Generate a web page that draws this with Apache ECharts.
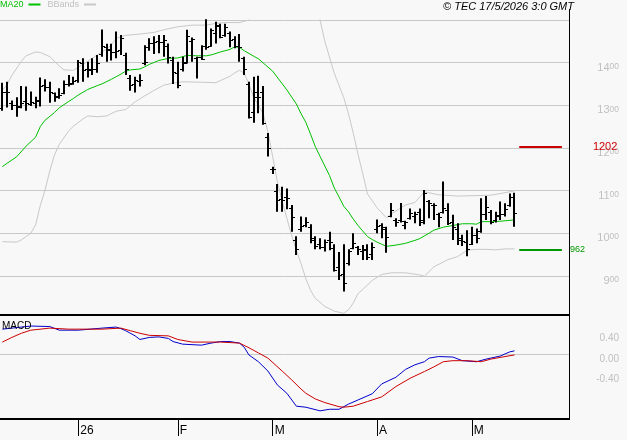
<!DOCTYPE html>
<html>
<head>
  <meta charset="utf-8">
  <title>MA20 / BBands / MACD</title>
  <script src="https://cdn.jsdelivr.net/npm/echarts@6/dist/echarts.min.js"></script>
  <style>
    html, body { margin: 0; padding: 0; background: #f8f8f8; }
  </style>
</head>
<body>
  <div id="main" style="width: 627px; height: 440px;"></div>
  <script>
    // trading days shown on the axis (the last ones are still empty)
    var decDays = [8, 9, 10, 11, 12, 15, 16, 17, 18, 19, 22, 23, 24, 29, 30, 31];
    var janDays = [2, 5, 6, 7, 8, 9, 12, 13, 14, 15, 16, 19, 20, 21, 22, 23, 26, 27, 28, 29, 30];
    var febDays = [2, 3, 4, 5, 6, 9, 10, 11, 12, 13, 16, 17, 18, 19, 20, 23, 24, 25, 26, 27];
    var marDays = [2, 3, 4, 5, 6, 9, 10, 11, 12, 13, 16, 17, 18, 19, 20, 23, 24, 25, 26, 27, 30, 31];
    var aprDays = [1, 2, 7, 8, 9, 10, 13, 14, 15, 16, 17, 20, 21, 22, 23, 24, 27, 28, 29, 30];
    var mayDays = [4, 5, 6, 7, 8, 11, 12, 13, 14, 15, 18, 19, 20, 21, 22, 25, 26, 27, 28, 29];
    var junDays = [1];
    var monthTicks = { '2026-01': '26', '2026-02': 'F', '2026-03': 'M', '2026-04': 'A', '2026-05': 'M' };

    var barOpen = [1293, 1330, 1305, 1300, 1296, 1310, 1304, 1306, 1310, 1348, 1344, 1328, 1320, 1328, 1350, 1352, 1360, 1400, 1386, 1384,
      1386, 1420, 1436, 1430, 1425, 1430, 1418, 1365, 1350, 1356, 1398, 1436, 1446, 1450, 1448, 1440, 1405, 1375, 1385, 1400,
      1450, 1410, 1414, 1438, 1440, 1470, 1485, 1465, 1470, 1455, 1440, 1410, 1350, 1285, 1330, 1330, 1225, 1150, 1100, 1080,
      1085, 1060, 985, 1010, 1020, 1015, 985, 975, 968, 985, 965, 920, 905, 930, 965, 968, 958, 960, 950, 1010,
      1020, 1010, 1040, 1030, 1030, 1020, 1035, 1040, 1050, 1030, 1075, 1065, 1045, 1050, 1055, 1025, 1010, 985, 980, 975,
      995, 1005, 1045, 1050, 1030, 1040, 1045, 1065, 1085];
    var barHigh = [1353, 1355, 1311, 1319, 1345, 1344, 1332, 1320, 1365, 1361, 1355, 1330, 1340, 1358, 1371, 1367, 1406, 1410, 1402, 1410,
      1418, 1478, 1444, 1444, 1473, 1465, 1423, 1371, 1367, 1373, 1441, 1457, 1462, 1465, 1465, 1445, 1414, 1402, 1414, 1477,
      1459, 1414, 1441, 1502, 1480, 1496, 1491, 1491, 1473, 1462, 1467, 1414, 1355, 1367, 1369, 1345, 1235, 1156, 1115, 1109,
      1105, 1066, 993, 1039, 1037, 1021, 993, 988, 985, 1003, 974, 956, 974, 962, 1000, 970, 972, 974, 978, 1032,
      1023, 1015, 1071, 1035, 1071, 1029, 1058, 1050, 1058, 1101, 1078, 1070, 1048, 1121, 1070, 1043, 1023, 996, 1007, 1015,
      1011, 1082, 1087, 1054, 1050, 1074, 1070, 1093, 1095];
    var barLow = [1287, 1295, 1289, 1273, 1293, 1287, 1298, 1293, 1297, 1332, 1306, 1308, 1315, 1326, 1344, 1348, 1353, 1355, 1365, 1371,
      1376, 1414, 1402, 1405, 1410, 1418, 1371, 1334, 1330, 1344, 1394, 1428, 1420, 1422, 1414, 1398, 1350, 1340, 1379, 1398,
      1402, 1363, 1406, 1430, 1437, 1445, 1457, 1461, 1436, 1434, 1402, 1371, 1269, 1259, 1281, 1254, 1180, 1139, 1050, 1050,
      1056, 1003, 949, 1003, 1014, 976, 962, 962, 957, 960, 910, 890, 863, 924, 962, 949, 937, 937, 937, 1000,
      988, 954, 1037, 1015, 1025, 1009, 1032, 1023, 1017, 1021, 1035, 1031, 1014, 1046, 1019, 984, 972, 970, 946, 972,
      976, 1001, 1031, 1021, 1025, 1031, 1039, 1062, 1015];
    var barClose = [1332, 1332, 1301, 1298, 1306, 1305, 1308, 1312, 1345, 1344, 1332, 1322, 1324, 1351, 1351, 1358, 1402, 1383, 1383, 1384,
      1398, 1439, 1431, 1426, 1428, 1457, 1384, 1348, 1359, 1359, 1402, 1445, 1449, 1449, 1452, 1414, 1379, 1348, 1402, 1462,
      1455, 1414, 1408, 1437, 1477, 1488, 1459, 1484, 1452, 1439, 1437, 1384, 1272, 1320, 1320, 1258, 1200, 1150, 1078, 1078,
      1082, 1039, 962, 1017, 1025, 988, 970, 968, 980, 980, 913, 902, 882, 957, 976, 962, 962, 945, 968, 1017,
      1015, 990, 1054, 1025, 1029, 1027, 1048, 1046, 1025, 1093, 1070, 1066, 1038, 1058, 1023, 1014, 988, 982, 962, 996,
      988, 1046, 1062, 1025, 1043, 1046, 1056, 1084, 1048];

    // indicator readings: [bar index, value]
    var ma20 = [[0, 1156], [1, 1164], [3, 1179], [5, 1204], [7, 1225], [8, 1250], [9, 1265], [11, 1283], [12, 1294], [14, 1309],
      [15, 1316], [16, 1324], [18, 1337], [20, 1346], [21, 1350], [23, 1361], [24, 1367], [25, 1373], [26, 1380], [27, 1383],
      [29, 1385], [30, 1390], [31, 1396], [33, 1405], [35, 1410], [37, 1411], [39, 1417], [41, 1416], [43, 1416], [44, 1418],
      [46, 1425], [48, 1431], [49, 1437], [50, 1436], [51, 1428], [53, 1415], [54, 1409], [57, 1380], [60, 1336], [62, 1303],
      [63, 1280], [64, 1260], [65, 1232], [66, 1203], [67, 1180], [69, 1135], [70, 1106], [71, 1085], [72, 1063], [73, 1050],
      [74, 1033], [75, 1018], [76, 1005], [77, 992], [78, 985], [79, 979], [80, 974], [81, 969], [83, 972], [85, 976],
      [87, 983], [88, 987], [90, 1000], [91, 1007], [93, 1014], [95, 1018], [97, 1022], [99, 1022], [100, 1021], [101, 1027],
      [104, 1027], [106, 1029], [108, 1031]];
    var bbUpper = [[0, 1335], [1, 1348], [2, 1370], [4, 1403], [5, 1416], [7, 1425], [8, 1424], [10, 1414], [12, 1392], [13, 1383],
      [15, 1382], [16, 1389], [18, 1403], [20, 1418], [22, 1432], [23, 1442], [24, 1457], [26, 1464], [29, 1467], [32, 1471],
      [34, 1477], [37, 1484], [40, 1488], [43, 1488], [45, 1492], [47, 1494], [50, 1494], [52, 1500], [53, 1520], [60, null],
      [66, 1530], [67, 1500], [68, 1450], [70, 1375], [72, 1318], [73, 1280], [74, 1235], [75, 1185], [76, 1140], [77, 1092], [79, 1060],
      [81, 1036], [82, 1045], [85, 1066], [87, 1072], [89, 1097], [92, 1090], [96, 1087], [103, 1089], [108, 1099]];
    var bbLower = [[0, 980], [3, 979], [4, 984], [6, 1000], [7, 1019], [8, 1065], [9, 1101], [10, 1146], [11, 1184], [12, 1208],
      [14, 1240], [15, 1251], [17, 1268], [18, 1275], [20, 1273], [22, 1275], [24, 1286], [26, 1290], [28, 1308], [30, 1322],
      [32, 1335], [34, 1347], [36, 1352], [38, 1355], [42, 1354], [45, 1353], [46, 1358], [48, 1368], [49, 1376], [50, 1382],
      [51, 1375], [52, 1350], [53, 1318], [54, 1300], [55, 1280], [56, 1238], [57, 1180], [58, 1120], [59, 1076], [60, 1035],
      [61, 995], [62, 960], [63, 928], [64, 893], [65, 866], [66, 847], [68, 828], [70, 817], [72, 812], [73, 820],
      [74, 836], [75, 858], [76, 868], [78, 889], [80, 903], [82, 907], [85, 907], [88, 902], [89, 899], [91, 921],
      [94, 938], [96, 945], [98, 960], [100, 962], [102, 962], [104, 961], [106, 963], [108, 963]];
    var macdLine = [[0, 0.48], [6, 0.54], [10, 0.53], [12, 0.46], [16, 0.46], [21, 0.50], [24, 0.52], [25, 0.49], [26, 0.45], [28, 0.35],
      [29, 0.28], [31, 0.32], [33, 0.33], [35, 0.30], [36, 0.24], [38, 0.19], [42, 0.17], [44, 0.21], [46, 0.24], [48, 0.24],
      [50, 0.21], [51, 0.13], [52, -0.02], [54, -0.15], [56, -0.33], [58, -0.60], [60, -0.76], [62, -1.01], [64, -1.03], [67, -1.10],
      [69, -1.07], [71, -1.07], [73, -0.97], [75, -0.89], [78, -0.77], [80, -0.58], [83, -0.45], [85, -0.30], [87, -0.21], [89, -0.15],
      [90, -0.08], [92, -0.05], [95, -0.06], [97, -0.13], [100, -0.15], [102, -0.10], [105, -0.04], [107, 0.04], [108, 0.06]];
    var signalLine = [[0, 0.23], [2, 0.32], [4, 0.40], [6, 0.46], [10, 0.50], [14, 0.48], [21, 0.48], [25, 0.50], [27, 0.45], [29, 0.40],
      [31, 0.36], [35, 0.35], [37, 0.28], [40, 0.23], [44, 0.23], [46, 0.23], [50, 0.21], [52, 0.12], [54, 0.02], [56, -0.08],
      [59, -0.33], [61, -0.50], [63, -0.68], [64, -0.76], [66, -0.87], [68, -0.94], [71, -1.02], [72, -1.03], [74, -1.01], [77, -0.92],
      [80, -0.83], [83, -0.63], [86, -0.47], [89, -0.34], [91, -0.25], [93, -0.15], [95, -0.13], [98, -0.13], [101, -0.15], [103, -0.10],
      [106, -0.05], [108, -0.02]];

    var levelHigh = 1202;
    var levelLow = 962;

    var cats = [];
    function addMonth(prefix, days) {
      for (var k = 0; k < days.length; k++) {
        cats.push(prefix + (days[k] < 10 ? '0' : '') + days[k]);
      }
    }
    addMonth('2025-12-', decDays);
    addMonth('2026-01-', janDays);
    addMonth('2026-02-', febDays);
    addMonth('2026-03-', marDays);
    addMonth('2026-04-', aprDays);
    addMonth('2026-05-', mayDays);
    addMonth('2026-06-', junDays);

    function isMonthStart(index) {
      return index > 0 && cats[index].slice(0, 7) !== cats[index - 1].slice(0, 7) && monthTicks[cats[index].slice(0, 7)] !== undefined;
    }
    var monthStarts = [];
    for (var m = 0; m < cats.length; m++) {
      if (isMonthStart(m)) monthStarts.push(m);
    }

    var ohlc = [];
    for (var i = 0; i < barClose.length; i++) {
      ohlc.push([i, barOpen[i], barClose[i], barLow[i], barHigh[i]]);
    }

    function renderBar(params, api) {
      var idx = api.value(0);
      var x = Math.round(api.coord([idx, 0])[0]);
      var yo = Math.round(api.coord([idx, api.value(1)])[1]) + 0.5;
      var yc = Math.round(api.coord([idx, api.value(2)])[1]) + 0.5;
      var yl = api.coord([idx, api.value(3)])[1];
      var yh = api.coord([idx, api.value(4)])[1];
      return {
        type: 'group',
        children: [
          { type: 'line', shape: { x1: x, y1: yh, x2: x, y2: yl }, style: { stroke: '#000', lineWidth: 2 } },
          { type: 'line', shape: { x1: x - 3, y1: yo, x2: x, y2: yo }, style: { stroke: '#000', lineWidth: 1 } },
          { type: 'line', shape: { x1: x, y1: yc, x2: x + 3, y2: yc }, style: { stroke: '#000', lineWidth: 1 } }
        ]
      };
    }

    var gray = '#c8c8c8';
    var labelGray = '#c0c0c0';
    var font = 'Liberation Sans';

    var chart = echarts.init(document.getElementById('main'));
    var option = {
      backgroundColor: '#f8f8f8',
      animation: false,
      textStyle: { fontFamily: font },
      legend: {
        left: 0, top: 0, padding: 0,
        align: 'right', icon: 'rect', itemWidth: 12, itemHeight: 2, itemGap: 7,
        selectedMode: false,
        textStyle: { fontSize: 9, fontFamily: font },
        data: [
          { name: 'MA20', textStyle: { color: '#00c000' } },
          { name: 'BBands', textStyle: { color: labelGray } }
        ]
      },
      grid: [
        { left: 0, right: 58, top: 20, height: 298.4, outerBoundsMode: 'none' },
        { left: 0, right: 58, top: 312.6, height: 103.4, outerBoundsMode: 'none' }
      ],
      xAxis: [
        { type: 'category', gridIndex: 0, data: cats, show: false, boundaryGap: true },
        {
          type: 'category', gridIndex: 1, data: cats, boundaryGap: true, offset: 3, position: 'bottom',
          axisLine: { show: true, onZero: false, lineStyle: { color: '#000', width: 2 } },
          axisTick: {
            show: true, alignWithLabel: true, length: 17, lineStyle: { color: '#000', width: 1 },
            customValues: monthStarts
          },
          axisLabel: {
            show: true,
            customValues: monthStarts,
            formatter: function (value) { return monthTicks[value.slice(0, 7)]; },
            align: 'left', margin: 6, padding: [0, 0, 0, 2],
            color: '#000', fontSize: 12, fontFamily: font
          },
          splitLine: { show: false }
        }
      ],
      yAxis: [
        {
          type: 'value', gridIndex: 0, position: 'right', min: 800, max: 1500, interval: 100,
          axisLine: { show: false }, axisTick: { show: false },
          splitLine: { show: true, showMinLine: false, lineStyle: { color: gray, width: 1 } },
          axisLabel: {
            showMinLabel: false, showMaxLabel: false,
            align: 'right', margin: 50, verticalAlign: 'middle', padding: [10, 0, 0, 0],
            formatter: function (v) {
              var s = String(v);
              return '{a|' + s.slice(0, s.length - 2) + '}{b|' + s.slice(s.length - 2) + '}';
            },
            rich: {
              a: { fontSize: 11, color: labelGray, fontFamily: font, lineHeight: 11, verticalAlign: 'bottom' },
              b: { fontSize: 8.5, color: labelGray, fontFamily: font, lineHeight: 11, verticalAlign: 'top' }
            }
          }
        },
        {
          type: 'value', gridIndex: 1, position: 'right', min: -1.2, max: 0.8, interval: 0.4,
          axisLine: { show: false }, axisTick: { show: false },
          splitLine: {
            show: true,
            lineStyle: { color: ['rgba(0,0,0,0)', 'rgba(0,0,0,0)', 'rgba(0,0,0,0)', gray, 'rgba(0,0,0,0)', 'rgba(0,0,0,0)'], width: 1 }
          },
          axisLabel: {
            align: 'right', margin: 50, verticalAlign: 'top',
            color: labelGray, fontSize: 10, fontFamily: font,
            formatter: function (v) {
              if (Math.abs(v - 0.4) < 1e-6) return '0.40';
              if (Math.abs(v) < 1e-6) return '0.00';
              if (Math.abs(v + 0.4) < 1e-6) return '-0.40';
              return '';
            }
          }
        }
      ],
      series: [
        {
          name: 'BBands', type: 'line', xAxisIndex: 0, yAxisIndex: 0, data: bbUpper,
          symbol: 'none', color: gray, lineStyle: { color: gray, width: 1 }, z: 2
        },
        {
          name: 'BBands', type: 'line', xAxisIndex: 0, yAxisIndex: 0, data: bbLower,
          symbol: 'none', color: gray, lineStyle: { color: gray, width: 1 }, z: 2
        },
        {
          name: 'MA20', type: 'line', xAxisIndex: 0, yAxisIndex: 0, data: ma20,
          symbol: 'none', color: '#00c000', lineStyle: { color: '#00c000', width: 1 }, z: 3
        },
        {
          name: 'price', type: 'custom', xAxisIndex: 0, yAxisIndex: 0, data: ohlc,
          renderItem: renderBar, encode: { x: 0, y: [1, 2, 3, 4] }, z: 4,
          markLine: {
            silent: true, symbol: 'none',
            data: [
              [
                { coord: [cats[109], levelHigh], lineStyle: { color: '#cc0000', width: 2, type: 'solid' },
                  label: { show: true, position: 'end', distance: 31, formatter: String(levelHigh), color: '#cc0000', fontSize: 11, fontFamily: font } },
                { coord: [cats[118], levelHigh] }
              ],
              [
                { coord: [cats[109], levelLow], lineStyle: { color: '#009900', width: 2, type: 'solid' },
                  label: { show: true, position: 'end', distance: 8, formatter: String(levelLow), color: '#009900', fontSize: 9, fontFamily: font } },
                { coord: [cats[118], levelLow] }
              ]
            ]
          }
        },
        {
          name: 'MACD', type: 'line', xAxisIndex: 1, yAxisIndex: 1, data: macdLine,
          symbol: 'none', color: '#0000cc', lineStyle: { color: '#0000cc', width: 1 }
        },
        {
          name: 'Signal', type: 'line', xAxisIndex: 1, yAxisIndex: 1, data: signalLine,
          symbol: 'none', color: '#cc0000', lineStyle: { color: '#cc0000', width: 1 }
        }
      ],
      graphic: [
        { type: 'rect', z: 100, shape: { x: 0, y: 314, width: 570, height: 2 }, style: { fill: '#000' } },
        { type: 'rect', z: 100, shape: { x: 0, y: 418, width: 570, height: 2 }, style: { fill: '#000' } },
        { type: 'rect', z: 100, shape: { x: 569, y: 9, width: 1, height: 411 }, style: { fill: '#000' } },
        { type: 'text', z: 100, left: 2, top: 321, style: { text: 'MACD', fill: '#000', fontSize: 10, fontFamily: font } },
        { type: 'text', z: 100, right: 53, top: 1, style: { text: '© TEC 17/5/2026 3:0 GMT', fill: '#000', fontSize: 11, fontStyle: 'italic', fontFamily: font } }
      ]
    };
    chart.setOption(option);
  </script>
</body>
</html>
